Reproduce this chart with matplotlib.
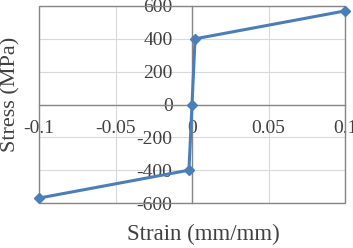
import matplotlib
matplotlib.use("Agg")
import matplotlib.pyplot as plt
from matplotlib.patches import Rectangle

# stress-strain points (bilinear, symmetric)
strain = [-0.1, -0.002, 0.0, 0.002, 0.1]
stress = [-570, -400, 0, 400, 570]

x_ticks = [-0.1, -0.05, 0, 0.05, 0.1]
x_labels = ["-0.1", "-0.05", "0", "0.05", "0.1"]
y_ticks = [-600, -400, -200, 0, 200, 400, 600]
y_labels = ["-600", "-400", "-200", "0", "200", "400", "600"]

plt.rcParams['font.family'] = ['Liberation Serif', 'DejaVu Serif']

fig = plt.figure(figsize=(3.53, 2.48), dpi=100)
ax = fig.add_axes([39 / 353, 45 / 248, 306 / 353, 197 / 248])

frame_col = '#868686'
grid_col = '#d9d9d9'

ax.plot(strain, stress, color='#4a7ebb', lw=2.2, marker='D', ms=5.5,
        zorder=5, clip_on=False)

ax.set_xlim(-0.1, 0.1)
ax.set_ylim(-600, 600)
ax.set_xticks(x_ticks)
ax.set_xticklabels(x_labels)
ax.set_yticks(y_ticks)
ax.set_yticklabels(y_labels)
ax.grid(True, color=grid_col, lw=0.8)
ax.set_axisbelow(True)

# axes cross at the origin
ax.spines['left'].set_position('zero')
ax.spines['bottom'].set_position('zero')
ax.spines['top'].set_visible(False)
ax.spines['right'].set_visible(False)
for s in ('left', 'bottom'):
    ax.spines[s].set_color(frame_col)
    ax.spines[s].set_linewidth(1.0)
ax.add_patch(Rectangle((0, 0), 1, 1, transform=ax.transAxes, fill=False,
                       edgecolor=frame_col, lw=1.0, clip_on=False, zorder=3))

ax.tick_params(axis='both', length=0, labelsize=14, colors='#404040')
ax.tick_params(axis='x', pad=11)
ax.tick_params(axis='y', pad=14)

ax.set_xlabel('Strain (mm/mm)', fontsize=16.5, color='#404040')
ax.set_ylabel('Stress (MPa)', fontsize=16, color='#404040')
ax.xaxis.set_label_coords(0.536, -0.105)
ax.yaxis.set_label_coords(-0.062, 0.553)

fig.savefig('out.png', dpi=100)
